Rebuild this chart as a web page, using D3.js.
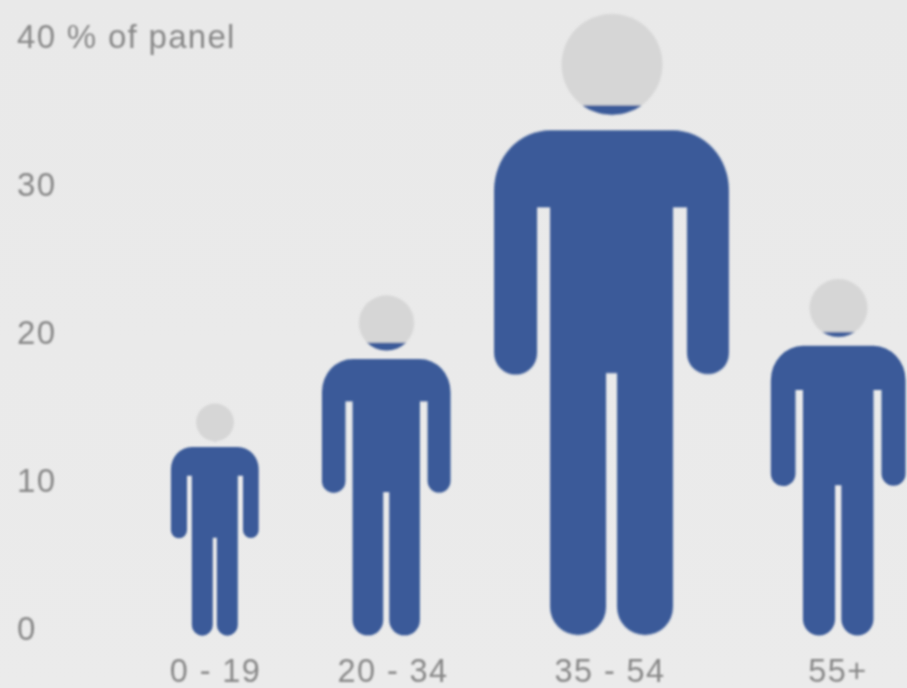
<!DOCTYPE html>
<html><head><meta charset="utf-8">
<script src="https://cdn.jsdelivr.net/npm/d3@7"></script>
<style>html,body{margin:0;padding:0;background:#eaeaea}svg{display:block}text{font-family:"Liberation Sans",sans-serif}</style>
</head><body><div id="chart"></div>
<script>
const categories=["0 - 19","20 - 34","35 - 54","55+"];
const values=[15.7,23,42,24.1];
const tickValues=[0,10,20,30,40];
const chinTop=[100,86,91,92];
const labelCentres=[215.5,393,610,838];
const W=907,H=688;
const y=d3.scaleLinear().domain([0,40]).range([636,44]);
const x=d3.scaleOrdinal().domain(categories).range([215,386.5,612,838.5]);
const xLabel=d3.scaleOrdinal().domain(categories).range(labelCentres);
const svg=d3.select("#chart").append("svg").attr("width",W).attr("height",H);
const defs=svg.append("defs");
const g=defs.append("linearGradient").attr("id","bg").attr("x1",0).attr("y1",0).attr("x2",0).attr("y2",1);
g.append("stop").attr("offset",0).attr("stop-color","#e9e9e9");
g.append("stop").attr("offset",1).attr("stop-color","#ebebeb");
const f=defs.append("filter").attr("id","soft");f.append("feGaussianBlur").attr("stdDeviation",0.8);
const c=defs.append("clipPath").attr("id","head");c.append("circle").attr("cx",0).attr("cy",50).attr("r",50.5);
svg.append("rect").attr("width",W).attr("height",H).attr("fill","url(#bg)");
const body="M-118 176A56 60 0 0 1-62 116H61A56 60 0 0 1 117 176V339A21 21 0 0 1 75 339V193H61V593A28 28 0 0 1 5 593V359H-6V593A28 28 0 0 1-62 593V193H-75V339A21.5 21.5 0 0 1-118 339Z";
const root=svg.append("g").attr("filter","url(#soft)");
const bh=d3.scaleLinear().domain([0,42]).range([0,y(0)-y(42)]);
const figs=root.selectAll("g.fig").data(categories).join("g").attr("class","fig")
 .attr("transform",(d,i)=>{const s=bh(values[i])/622;return `translate(${x(d)},${y(values[i])}) scale(${s})`;});
figs.append("circle").attr("cx",0).attr("cy",50).attr("r",50.5).attr("fill","#d6d6d6");
figs.append("rect").attr("x",-51).attr("y",(d,i)=>chinTop[i]).attr("width",102).attr("height",(d,i)=>Math.max(0,102-chinTop[i])).attr("fill","#3a5a99").attr("clip-path","url(#head)");
figs.append("path").attr("d",body).attr("fill","#3a5a99");
root.selectAll("text.tick").data(tickValues).join("text").attr("class","tick")
 .attr("x",17).attr("y",d=>y(d)+4).attr("font-size",33).attr("letter-spacing",1.3).attr("fill","#888888")
 .text(d=>d===40?"40 % of panel":d);
root.selectAll("text.cat").data(categories).join("text").attr("class","cat")
 .attr("x",d=>xLabel(d)).attr("y",682).attr("text-anchor","middle").attr("font-size",32.5).attr("letter-spacing",1.4).attr("fill","#888888").text(d=>d);
</script></body></html>
